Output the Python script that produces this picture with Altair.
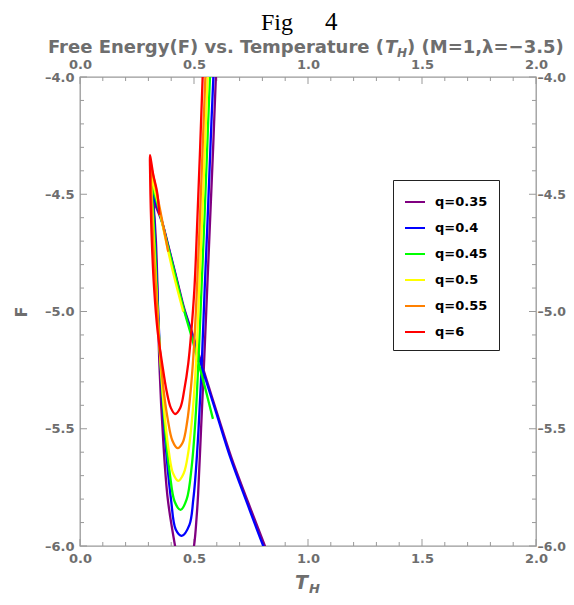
import altair as alt
import pandas as pd

# ---------------- data ----------------
q_labels = ["q=0.35", "q=0.4", "q=0.45", "q=0.5", "q=0.55", "q=6"]
q_colors = ["#800080", "#0000FF", "#00FF00", "#FFFF00", "#FF8000", "#FF0000"]

# each curve: right branch from top down to minimum, left branch up to cusp, tail down-right
T_035 = [0.599, 0.596, 0.584, 0.571, 0.558, 0.545, 0.531, 0.518, 0.512, 0.500, 0.480, 0.458,
         0.435, 0.417, 0.385, 0.365, 0.348, 0.340, 0.333, 0.324, 0.320,
         0.326, 0.360, 0.385, 0.428, 0.458, 0.495, 0.539, 0.605, 0.663, 0.736, 0.811, 0.835]
F_035 = [-3.95, -4.00, -4.30, -4.60, -4.90, -5.20, -5.50, -5.78, -5.87, -6.00, -6.09, -6.11,
         -6.09, -6.00, -5.80, -5.55, -5.22, -4.90, -4.70, -4.56, -4.516,
         -4.535, -4.62, -4.71, -4.875, -4.99, -5.10, -5.24, -5.445, -5.62, -5.81, -6.00, -6.06]

T_040 = [0.588, 0.585, 0.572, 0.560, 0.547, 0.535, 0.520, 0.505, 0.497, 0.480, 0.446,
         0.420, 0.399, 0.380, 0.360, 0.345, 0.334, 0.325, 0.318, 0.317,
         0.323, 0.355, 0.380, 0.424, 0.453, 0.490, 0.534, 0.600, 0.658, 0.730, 0.804, 0.830]
F_040 = [-3.95, -4.00, -4.30, -4.60, -4.90, -5.20, -5.50, -5.72, -5.80, -5.91, -5.957,
         -5.93, -5.80, -5.62, -5.35, -5.05, -4.80, -4.60, -4.52, -4.489,
         -4.51, -4.60, -4.695, -4.866, -4.98, -5.092, -5.236, -5.44, -5.619, -5.81, -6.00, -6.06]

T_045 = [0.573, 0.570, 0.558, 0.546, 0.533, 0.520, 0.507, 0.490, 0.468, 0.441,
         0.415, 0.395, 0.375, 0.357, 0.341, 0.330, 0.321, 0.315, 0.314,
         0.320, 0.350, 0.380, 0.424, 0.455, 0.490, 0.520, 0.550, 0.583]
F_045 = [-3.95, -4.00, -4.30, -4.60, -4.90, -5.20, -5.45, -5.66, -5.80, -5.846,
         -5.81, -5.70, -5.52, -5.28, -5.00, -4.75, -4.58, -4.49, -4.453,
         -4.475, -4.58, -4.70, -4.87, -4.99, -5.11, -5.22, -5.33, -5.458]

T_050 = [0.563, 0.560, 0.548, 0.536, 0.523, 0.510, 0.495, 0.475, 0.455, 0.431,
         0.408, 0.390, 0.370, 0.352, 0.337, 0.325, 0.316, 0.312, 0.311,
         0.316, 0.345, 0.375, 0.410, 0.453]
F_050 = [-3.95, -4.00, -4.30, -4.60, -4.90, -5.20, -5.42, -5.60, -5.69, -5.722,
         -5.69, -5.60, -5.43, -5.20, -4.95, -4.72, -4.55, -4.45, -4.411,
         -4.435, -4.55, -4.69, -4.84, -5.001]

T_055 = [0.553, 0.550, 0.538, 0.526, 0.513, 0.500, 0.487, 0.470, 0.450, 0.428,
         0.405, 0.385, 0.365, 0.347, 0.333, 0.321, 0.313, 0.310, 0.309,
         0.313, 0.330, 0.350, 0.370, 0.387]
F_055 = [-3.95, -4.00, -4.30, -4.60, -4.90, -5.15, -5.32, -5.47, -5.56, -5.583,
         -5.55, -5.46, -5.32, -5.12, -4.90, -4.70, -4.50, -4.40, -4.361,
         -4.385, -4.46, -4.56, -4.66, -4.745]

T_6 = [0.541, 0.538, 0.527, 0.515, 0.502, 0.487, 0.475, 0.458, 0.440, 0.417,
       0.398, 0.380, 0.360, 0.340, 0.325, 0.315, 0.309, 0.307, 0.307,
       0.312, 0.322, 0.338, 0.348]
F_6 = [-3.95, -4.00, -4.30, -4.60, -4.90, -5.10, -5.22, -5.33, -5.41, -5.437,
       -5.41, -5.34, -5.22, -5.08, -4.90, -4.70, -4.50, -4.38, -4.333,
       -4.36, -4.42, -4.49, -4.588]

curves_T = [T_035, T_040, T_045, T_050, T_055, T_6]
curves_F = [F_035, F_040, F_045, F_050, F_055, F_6]

x_major = [0.0, 0.5, 1.0, 1.5, 2.0]
x_minor = [0.1, 0.2, 0.3, 0.4, 0.6, 0.7, 0.8, 0.9, 1.1, 1.2, 1.3, 1.4, 1.6, 1.7, 1.8, 1.9]
y_major = [-6.0, -5.5, -5.0, -4.5, -4.0]
y_minor = [-5.9, -5.8, -5.7, -5.6, -5.4, -5.3, -5.2, -5.1, -4.9, -4.8, -4.7, -4.6,
           -4.4, -4.3, -4.2, -4.1]

# ---------------- layout ----------------
W, H = 456, 469
GRAY = "#6e6e6e"
FRAME = "#999999"
FONT = "DejaVu Sans"

xs = alt.Scale(domain=[0, 2], nice=False, zero=False)
ys = alt.Scale(domain=[-6, -4], nice=False, zero=False)
cs = alt.Scale(domain=q_labels, range=q_colors)

axis_common = dict(values=x_major, format=".1f", ticks=False, domain=False, grid=False,
                   labelFont=FONT, labelFontWeight="bold", labelFontSize=13,
                   labelColor=GRAY, labelFlush=False, labelOverlap=False, labelBound=False,
                   title=None)
yaxis_common = dict(axis_common)
yaxis_common["values"] = y_major
yaxis_common["labelExpr"] = "replace(format(datum.value, '.1f'), '\u2212', '\u2013')"

legend = alt.Legend(orient="none", legendX=313, legendY=103, title=None,
                    symbolType="stroke", symbolStrokeWidth=2, symbolSize=400,
                    labelFont=FONT, labelFontWeight="bold", labelFontSize=13,
                    labelColor="black", labelOffset=9, padding=11, rowPadding=8,
                    strokeColor="#222222", fillColor="white", symbolOpacity=1)

layers = []

# tick layers that carry the axes
xt_major = pd.DataFrame({"v": x_major})
xt_minor = pd.DataFrame({"v": x_minor})
yt_major = pd.DataFrame({"v": y_major})
yt_minor = pd.DataFrame({"v": y_minor})

bottom_major = alt.Chart(xt_major).mark_rule(color=FRAME, strokeWidth=1).encode(
    x=alt.X("v:Q", scale=xs, axis=alt.Axis(orient="bottom", labelPadding=6, **axis_common)),
    y=alt.value(H), y2=alt.value(H - 7))
top_major = alt.Chart(xt_major).mark_rule(color=FRAME, strokeWidth=1).encode(
    x=alt.X("v:Q", scale=xs, axis=alt.Axis(orient="top", labelPadding=6, **axis_common)),
    y=alt.value(0), y2=alt.value(7))
bottom_minor = alt.Chart(xt_minor).mark_rule(color=FRAME, strokeWidth=1).encode(
    x=alt.X("v:Q", scale=xs, axis=None), y=alt.value(H), y2=alt.value(H - 4))
top_minor = alt.Chart(xt_minor).mark_rule(color=FRAME, strokeWidth=1).encode(
    x=alt.X("v:Q", scale=xs, axis=None), y=alt.value(0), y2=alt.value(4))

left_major = alt.Chart(yt_major).mark_rule(color=FRAME, strokeWidth=1).encode(
    y=alt.Y("v:Q", scale=ys, axis=alt.Axis(orient="left", labelPadding=6, **yaxis_common)),
    x=alt.value(0), x2=alt.value(7))
right_axis = dict(yaxis_common)
right_axis["labelFontSize"] = 12.5
right_major = alt.Chart(yt_major).mark_rule(color=FRAME, strokeWidth=1).encode(
    y=alt.Y("v:Q", scale=ys, axis=alt.Axis(orient="right", labelPadding=1, **right_axis)),
    x=alt.value(W), x2=alt.value(W - 7))
left_minor = alt.Chart(yt_minor).mark_rule(color=FRAME, strokeWidth=1).encode(
    y=alt.Y("v:Q", scale=ys, axis=None), x=alt.value(0), x2=alt.value(4))
right_minor = alt.Chart(yt_minor).mark_rule(color=FRAME, strokeWidth=1).encode(
    y=alt.Y("v:Q", scale=ys, axis=None), x=alt.value(W), x2=alt.value(W - 4))

layers += [bottom_major, left_major, top_major, right_major,
           bottom_minor, top_minor, left_minor, right_minor]

for lab, Ts, Fs in zip(q_labels, curves_T, curves_F):
    df = pd.DataFrame({"T": Ts, "F": Fs, "i": list(range(len(Ts))), "q": [lab] * len(Ts)})
    layers.append(
        alt.Chart(df).mark_line(strokeWidth=2.3, clip=True, interpolate="catmull-rom").encode(
            x=alt.X("T:Q", scale=xs, axis=None),
            y=alt.Y("F:Q", scale=ys, axis=None),
            order="i:Q",
            color=alt.Color("q:N", scale=cs, legend=legend),
        )
    )

# titles as text marks
def txt(s, x, y, **kw):
    return alt.Chart(pd.DataFrame({"t": [s]})).mark_text(**kw).encode(
        x=alt.value(x), y=alt.value(y), text="t:N")

TB = -24  # baseline of the second title line, relative to plot top
title_kw = dict(font=FONT, fontWeight="bold", fontSize=18, color=GRAY, baseline="alphabetic")
layers += [
    txt("Fig", 181, -47.5, font="Liberation Serif", fontSize=24, color="black",
        align="left", baseline="alphabetic"),
    txt("4", 245, -47.5, font="Liberation Serif", fontSize=25, color="black",
        align="left", baseline="alphabetic"),
    txt("Free Energy(F) vs. Temperature (", 304, TB, align="right", **title_kw),
    txt("T", 305, TB, align="left", font=FONT, fontWeight="bold", fontStyle="italic",
        fontSize=18, color=GRAY, baseline="alphabetic"),
    txt("H", 317, TB + 4, align="left", font=FONT, fontWeight="bold", fontStyle="italic",
        fontSize=12, color=GRAY, baseline="alphabetic"),
    txt(") (M=1,λ=−3.5)", 327, TB, align="left", **title_kw),
    txt("F", -58, 235, font=FONT, fontWeight="bold", fontSize=16, color=GRAY,
        angle=270, align="center", baseline="middle"),
    txt("T", 215, 511.5, align="left", font=FONT, fontWeight="bold", fontStyle="italic",
        fontSize=19, color=GRAY, baseline="alphabetic"),
    txt("H", 229, 516, align="left", font=FONT, fontWeight="bold", fontStyle="italic",
        fontSize=13, color=GRAY, baseline="alphabetic"),
]

chart = alt.layer(*layers).resolve_axis(x="independent", y="independent").properties(
    width=W, height=H,
    autosize=alt.AutoSizeParams(type="none"),
    padding={"left": 72, "top": 69, "right": 30, "bottom": 51},
).configure_view(stroke=FRAME, strokeWidth=1.3)

chart.save("out.html", embed_options={"renderer": "svg", "actions": False})
